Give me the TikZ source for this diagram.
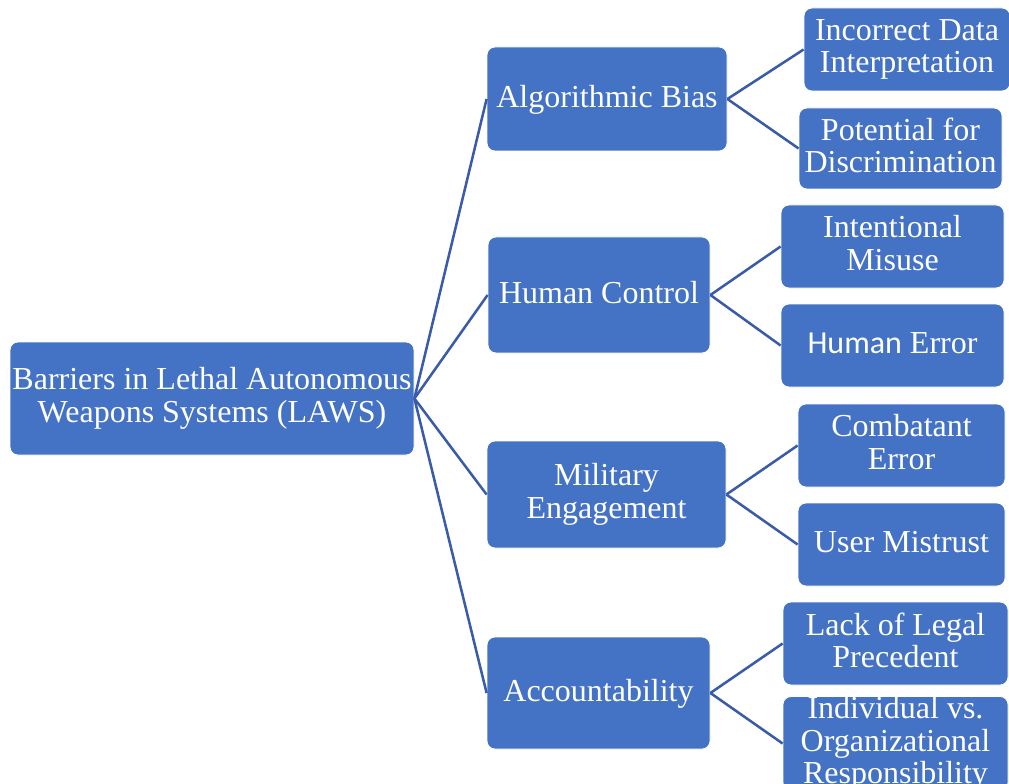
\documentclass[tikz,border=0pt]{standalone}
\usepackage{fontspec}
\setmainfont{Liberation Serif}
\newfontfamily\calib{Carlito}
\definecolor{boxblue}{HTML}{4472C4}
\definecolor{lineblue}{HTML}{3A5CA8}
\newcommand{\mystrut}{\rule[-5.4pt]{0pt}{23.4pt}}
\begin{document}
\begin{tikzpicture}[x=0.75pt,y=-0.75pt,
  box/.style={fill=boxblue,draw=white,line width=0.6pt,rounded corners=6pt,text=white,align=center,inner sep=0pt,
    font=\fontsize{24pt}{24.2pt}\selectfont,
    execute at begin node=\mystrut, execute at end node=\mystrut},
  conn/.style={draw=lineblue,line width=1.9pt}]
\useasboundingbox (0,0) rectangle (1009,784);
\begin{scope}
\clip (0,0) rectangle (1009,784);
% root
\node[box,minimum width=303pt,minimum height=84.75pt] (root) at (212,398.5) {Barriers in Lethal Autonomous\\Weapons Systems (LAWS)};
% level 1
\node[box,minimum width=180pt,minimum height=78pt] (ab) at (607,99) {Algorithmic Bias};
\node[box,minimum width=166.5pt,minimum height=87pt] (hc) at (599,295) {Human Control};
\node[box,minimum width=179.25pt,minimum height=80.25pt] (me) at (606.5,494.5) {Military\\Engagement};
\node[box,minimum width=167.25pt,minimum height=84pt] (ac) at (598.5,693) {Accountability};
% level 2
\node[box,minimum width=154.5pt,minimum height=62.25pt] (idi) at (907,49.5) {Incorrect Data\\Interpretation};
\node[box,minimum width=152.25pt,minimum height=60.75pt] (pd) at (900.5,148.5) {Potential for\\Discrimination};
\node[box,minimum width=167.25pt,minimum height=62.25pt] (im) at (892.5,246.5) {Intentional\\Misuse};
\node[box,minimum width=167.25pt,minimum height=62.25pt] (he) at (892.5,345.5) {{\calib Human} Error};
\node[box,minimum width=155.25pt,minimum height=62.25pt] (ce) at (901.5,445.5) {Combatant\\Error};
\node[box,minimum width=155.25pt,minimum height=62.25pt] (um) at (901.5,544.5) {User Mistrust};
\node[box,minimum width=168.75pt,minimum height=62.25pt] (llp) at (895.5,643.5) {Lack of Legal\\Precedent};
\node[box,minimum width=168.75pt,minimum height=62.25pt] (ior) at (895.5,743.5) {Individual vs.\\Organizational\\Responsibility};
% connectors
\foreach \p in {ab,hc,me,ac} \draw[conn] (root.east) -- (\p.west);
\draw[conn] (ab.east) -- (idi.west);
\draw[conn] (ab.east) -- (pd.west);
\draw[conn] (hc.east) -- (im.west);
\draw[conn] (hc.east) -- (he.west);
\draw[conn] (me.east) -- (ce.west);
\draw[conn] (me.east) -- (um.west);
\draw[conn] (ac.east) -- (llp.west);
\draw[conn] (ac.east) -- (ior.west);
\end{scope}
\end{tikzpicture}
\end{document}
